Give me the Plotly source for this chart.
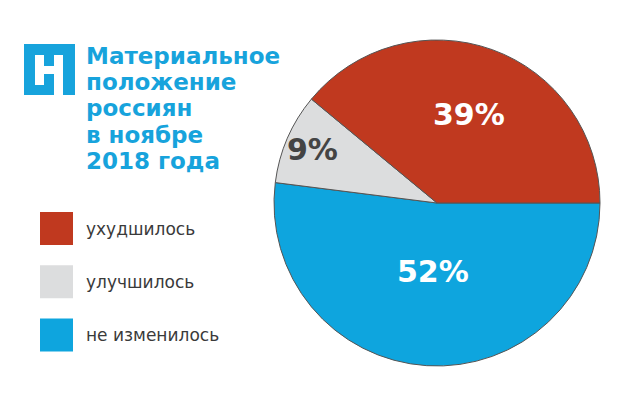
import math
import plotly.graph_objects as go

# page body has an 8px margin; figure sized to fill the remaining window
OFF = 8
W, H = 640 - OFF, 396 - OFF

labels = ["ухудшилось", "улучшилось", "не изменилось"]
values = [39, 9, 52]
colors = ["#c0391f", "#dcddde", "#0ea5de"]
text_colors = ["#ffffff", "#444444", "#ffffff"]
title_lines = ["Материальное", "положение", "россиян", "в ноябре", "2018 года"]

BLUE = "#17a3dc"

# pie geometry (pixels in the page)
CX, CY, R = 437, 203, 163
label_radius = [0.58, 0.83, 0.42]  # radial placement of value labels

def px(x):
    return (x - OFF) / W

def py(y):
    return 1 - (y - OFF) / H

fig = go.Figure()
# drawn clockwise from 3 o'clock in reverse order => counterclockwise red, gray, blue
fig.add_trace(go.Pie(
    labels=labels[::-1],
    values=values[::-1],
    sort=False,
    direction="clockwise",
    rotation=90,
    marker=dict(colors=colors[::-1], line=dict(color="#555555", width=1)),
    textinfo="none",
    showlegend=False,
    hoverinfo="skip",
    domain=dict(x=[px(CX - R), px(CX + R)], y=[py(CY + R), py(CY - R)]),
))

shapes = []
annotations = []

# value labels placed at each slice's mid-angle (counterclockwise from 3 o'clock)
total = sum(values)
cum = 0
for v, tc, f in zip(values, text_colors, label_radius):
    mid = (cum + v / 2) / total * 2 * math.pi
    cum += v
    lx = CX + f * R * math.cos(mid)
    ly = CY - f * R * math.sin(mid)
    annotations.append(dict(
        text=f"{v}%", xref="paper", yref="paper", x=px(lx), y=py(ly),
        xanchor="center", yanchor="middle", showarrow=False,
        font=dict(family="DejaVu Sans", size=30, color=tc, weight="bold"),
    ))

# logo
shapes.append(dict(type="rect", xref="paper", yref="paper",
                   x0=px(24), x1=px(75), y0=py(95), y1=py(44),
                   fillcolor=BLUE, line=dict(width=0)))
for (x0, x1, y0, y1) in [(35, 44, 55, 85), (44, 54, 66, 74), (54, 63, 55, 95)]:
    shapes.append(dict(type="rect", xref="paper", yref="paper",
                       x0=px(x0), x1=px(x1), y0=py(y1), y1=py(y0),
                       fillcolor="white", line=dict(width=0)))

# title lines
for i, line in enumerate(title_lines):
    annotations.append(dict(
        text=line, xref="paper", yref="paper", x=px(84), y=py(55.5 + i * 26.5),
        xanchor="left", yanchor="middle", showarrow=False,
        font=dict(family="DejaVu Sans", size=23, color=BLUE, weight="bold"),
    ))

# custom legend
for i, (lab, col) in enumerate(zip(labels, colors)):
    cy = 228.5 + i * 53.2
    shapes.append(dict(type="rect", xref="paper", yref="paper",
                       x0=px(40), x1=px(73), y0=py(cy + 16.5), y1=py(cy - 16.5),
                       fillcolor=col, line=dict(width=0)))
    annotations.append(dict(
        text=lab, xref="paper", yref="paper", x=px(84), y=py(cy),
        xanchor="left", yanchor="middle", showarrow=False,
        font=dict(family="DejaVu Sans", size=17, color="#3a3a3a"),
    ))

fig.update_layout(
    width=W, height=H,
    margin=dict(l=0, r=0, t=0, b=0),
    paper_bgcolor="white", plot_bgcolor="white",
    shapes=shapes, annotations=annotations,
)

fig.write_html("out.html")
